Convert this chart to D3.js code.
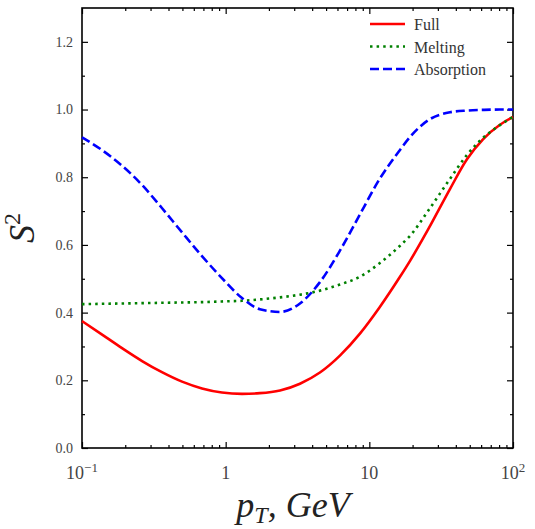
<!DOCTYPE html>
<html>
<head>
<meta charset="utf-8">
<script src="https://cdn.jsdelivr.net/npm/d3@7"></script>
<style>
  body { margin: 0; background: #fff; }
  svg text { font-family: "Liberation Serif", "DejaVu Serif", serif; }
</style>
</head>
<body>
<script>
// Define SVG dimensions
let svgWidth = 535;
let svgHeight = 529;
let margin = { top: 8, right: 22, bottom: 81, left: 82 };
let chartWidth = svgWidth - margin.left - margin.right;
let chartHeight = svgHeight - margin.top - margin.bottom;

// Data (pT grid in GeV, S^2 per model)
let pT = [0.1, 0.138, 0.19, 0.262, 0.36, 0.497, 0.684, 0.942, 1.3, 1.73, 2.39, 3.29, 4.53, 6.24, 8.6, 11.8, 16.3, 19.2, 25.6, 36.4, 47.8, 61.8, 81.1, 100];
let full = [0.375, 0.335, 0.295, 0.257, 0.224, 0.196, 0.176, 0.164, 0.160, 0.162, 0.170, 0.190, 0.223, 0.273, 0.338, 0.416, 0.505, 0.553, 0.645, 0.765, 0.853, 0.912, 0.955, 0.978];
let melting = [0.425, 0.426, 0.427, 0.428, 0.429, 0.43, 0.431, 0.433, 0.435, 0.439, 0.445, 0.453, 0.465, 0.483, 0.506, 0.546, 0.597, 0.627, 0.70, 0.795, 0.866, 0.916, 0.954, 0.978];
let absorption = [0.918, 0.880, 0.834, 0.777, 0.709, 0.637, 0.567, 0.502, 0.443, 0.410, 0.402, 0.427, 0.49, 0.583, 0.69, 0.795, 0.88, 0.919, 0.968, 0.992, 0.997, 0.999, 1.0, 1.0];
let seriesNames = ["Full", "Melting", "Absorption"];
let seriesColors = ["red", "green", "blue"];
let seriesDash = [null, "2.5,4.1", "9,4"];
let xMajor = [0.1, 1, 10, 100];
let xMajorLabels = [["10", "\u22121"], ["1", null], ["10", null], ["10", "2"]];
let yTicks = d3.range(0, 13).map(d => d / 10);

let svg = d3.select("body")
            .append("svg")
            .attr("width", svgWidth)
            .attr("height", svgHeight);
let chartGroup = svg.append("g")
                    .attr("transform", `translate(${margin.left}, ${margin.top})`);

let xScale = d3.scaleLog().domain([0.1, 100]).range([0, chartWidth]);
let yScale = d3.scaleLinear().domain([0, 1.3]).range([chartHeight, 0]);

// minor + major ticks, drawn inward on all four sides
let xMinor = xScale.ticks().filter(d => !xMajor.some(m => Math.abs(m - d) < 1e-9));
let yMinor = yTicks.filter((d, i) => i % 2 === 1);
let yMajor = yTicks.filter((d, i) => i % 2 === 0);

function tickAxis(axisFn, scale, values, size, transform) {
    let g = chartGroup.append("g")
        .attr("transform", transform)
        .call(axisFn(scale).tickValues(values).tickSizeInner(size).tickSizeOuter(0).tickFormat(""));
    g.select(".domain").remove();
    g.selectAll("line").attr("stroke", "#000").attr("stroke-width", 1.2);
    return g;
}
tickAxis(d3.axisBottom, xScale, xMinor, -3, `translate(0, ${chartHeight})`);
tickAxis(d3.axisBottom, xScale, xMajor, -6, `translate(0, ${chartHeight})`);
tickAxis(d3.axisTop, xScale, xMinor, -3, "translate(0, 0)");
tickAxis(d3.axisTop, xScale, xMajor, -6, "translate(0, 0)");
tickAxis(d3.axisLeft, yScale, yMinor, -3, "translate(0, 0)");
tickAxis(d3.axisLeft, yScale, yMajor, -6, "translate(0, 0)");
tickAxis(d3.axisRight, yScale, yMinor, -3, `translate(${chartWidth}, 0)`);
tickAxis(d3.axisRight, yScale, yMajor, -6, `translate(${chartWidth}, 0)`);

// frame
chartGroup.append("rect")
          .attr("width", chartWidth)
          .attr("height", chartHeight)
          .attr("fill", "none")
          .attr("stroke", "#000")
          .attr("stroke-width", 1.6);

// y tick labels
chartGroup.selectAll(".ylab")
          .data(yMajor)
          .enter()
          .append("text")
          .attr("x", -9)
          .attr("y", d => yScale(d))
          .attr("dy", "0.35em")
          .attr("text-anchor", "end")
          .attr("font-size", 14)
          .attr("fill", "#444")
          .text(d => d.toFixed(1));

// x tick labels with superscripts
xMajor.forEach((v, i) => {
    let t = chartGroup.append("text")
        .attr("x", xScale(v))
        .attr("y", chartHeight + 31)
        .attr("text-anchor", "middle")
        .attr("font-size", 18)
        .attr("fill", "#444");
    t.append("tspan").text(xMajorLabels[i][0]);
    if (xMajorLabels[i][1]) {
        t.append("tspan").attr("dy", -7).attr("font-size", 13).text(xMajorLabels[i][1]);
    }
});

// lines
let lineGen = d3.line()
                .x(d => xScale(d[0]))
                .y(d => yScale(d[1]))
                .curve(d3.curveMonotoneX);
[full, melting, absorption].forEach((vals, i) => {
    chartGroup.append("path")
              .datum(pT.map((p, j) => [p, vals[j]]))
              .attr("d", lineGen)
              .attr("fill", "none")
              .attr("stroke", seriesColors[i])
              .attr("stroke-width", 2.6)
              .attr("stroke-dasharray", seriesDash[i]);
});

// legend
let legend = chartGroup.append("g").attr("transform", "translate(288, 16)");
seriesNames.forEach((name, i) => {
    let row = legend.append("g").attr("transform", `translate(0, ${i * 22.5})`);
    row.append("line")
       .attr("x1", 0).attr("x2", 35)
       .attr("stroke", seriesColors[i])
       .attr("stroke-width", 2.6)
       .attr("stroke-dasharray", seriesDash[i]);
    row.append("text")
       .attr("x", 44)
       .attr("y", 6)
       .attr("font-size", 16)
       .attr("fill", "#333")
       .text(name);
});

// axis titles
let xt = svg.append("text")
            .attr("x", 293)
            .attr("y", 517)
            .attr("text-anchor", "middle")
            .attr("font-size", 36)
            .attr("font-style", "italic")
            .attr("fill", "#222");
xt.append("tspan").text("p");
xt.append("tspan").attr("dy", 6).attr("font-size", 24).text("T");
xt.append("tspan").attr("dy", -6).text(", GeV");

let yt = svg.append("text")
            .attr("transform", "translate(34, 228) rotate(-90)")
            .attr("text-anchor", "middle")
            .attr("font-size", 36)
            .attr("font-style", "italic")
            .attr("fill", "#222");
yt.append("tspan").text("S");
yt.append("tspan").attr("dy", -14).attr("font-size", 24).attr("font-style", "normal").text("2");
</script>
</body>
</html>
